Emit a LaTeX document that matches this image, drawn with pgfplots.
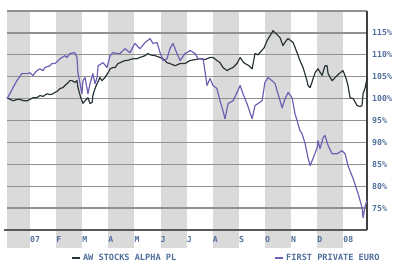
\documentclass[border=0pt]{standalone}
\usepackage{fontspec}
\setmonofont{DejaVu Sans Mono}
\usepackage{pgfplots}
\pgfplotsset{compat=1.18}
\definecolor{stripe}{RGB}{218,218,218}
\definecolor{gridc}{RGB}{145,145,145}
\definecolor{awc}{RGB}{40,52,55}
\definecolor{fpc}{RGB}{110,96,180}
\definecolor{lab}{RGB}{80,110,155}
\begin{document}
\begin{tikzpicture}
\begin{axis}[
 at={(0pt,0pt)}, anchor=south west,
 scale only axis, width=360pt, height=219pt,
 xmin=-0.88, xmax=12.91, ymin=70, ymax=120,
 set layers, clip=false,
 axis x line*=bottom, axis y line*=right,
 x axis line style={color=black!65, line width=1.6pt, shorten <=-3pt},
 y axis line style={color=black!75, line width=1.2pt},
 xtick={0,...,12}, xticklabels={07,F,M,A,M,J,J,A,S,O,N,D,08},
 ytick={75,80,...,120},
 yticklabels={75\%,80\%,85\%,90\%,95\%,100\%,105\%,110\%,115\%,{}},
 major tick length=0pt,
 ymajorgrids, grid style={gridc, line width=1.3pt},
 tick label style={font=\ttfamily\bfseries\fontsize{8.2}{9}\selectfont, text=lab},
 xticklabel style={anchor=north west, inner sep=0pt, yshift=-6pt},
 yticklabel style={anchor=west, inner sep=0pt, xshift=5pt},
 legend columns=2,
 legend style={at={(axis description cs:0.169,-0.128)}, anchor=west, draw=none, fill=none,
   font=\ttfamily\bfseries\fontsize{8.6}{9}\selectfont, text=lab,
   /tikz/every even column/.append style={column sep=96pt}},
 legend image code/.code={\draw[#1, line width=2pt] (0pt,0pt) -- (8pt,0pt);},
]
\begin{pgfonlayer}{axis background}
\fill[stripe] (axis cs:-0.88,65.9) rectangle (axis cs:0,120);
\fill[stripe] (axis cs:1,65.9) rectangle (axis cs:2,120);
\fill[stripe] (axis cs:3,65.9) rectangle (axis cs:4,120);
\fill[stripe] (axis cs:5,65.9) rectangle (axis cs:6,120);
\fill[stripe] (axis cs:7,65.9) rectangle (axis cs:8,120);
\fill[stripe] (axis cs:9,65.9) rectangle (axis cs:10,120);
\fill[stripe] (axis cs:11,65.9) rectangle (axis cs:12,120);
\end{pgfonlayer}
\addplot[awc, line width=1.2pt, line join=round] coordinates {
(-0.88,100.2) (-0.65,99.5) (-0.50,99.8) (-0.38,99.8) (-0.23,99.5) (-0.11,99.5) (0,99.8)
(0.11,100.2) (0.27,100.2) (0.38,100.7) (0.50,100.5) (0.65,101.1) (0.77,100.9) (0.88,101.1)
(0.96,101.4) (1.07,101.8) (1.15,102.3) (1.26,102.5) (1.34,103.0) (1.42,103.4) (1.53,104.1)
(1.61,104.1) (1.72,103.7) (1.80,104.1) (1.84,102.5) (1.92,100.7) (1.99,99.5) (2.03,98.9)
(2.11,99.5) (2.22,100.2) (2.30,98.9) (2.38,99.1) (2.41,100.7) (2.49,102.3) (2.57,103.4)
(2.68,104.8) (2.76,104.1) (2.87,104.8) (2.99,105.9) (3.07,106.8) (3.18,107.1) (3.26,107.1)
(3.37,108.0) (3.45,108.2) (3.64,108.7) (3.72,108.7) (3.83,108.9) (3.95,109.1) (4.10,109.1)
(4.21,109.4) (4.41,109.8) (4.52,110.3) (4.60,110.0) (4.79,109.8) (4.98,109.4) (5.10,109.1)
(5.25,108.2) (5.36,108.0) (5.56,107.5) (5.75,108.0) (5.94,108.0) (6.13,108.7) (6.32,108.9)
(6.51,109.1) (6.70,108.9) (6.90,109.4) (7.01,109.4) (7.16,108.7) (7.28,108.2) (7.39,107.1)
(7.55,106.4) (7.66,106.8) (7.78,107.1) (7.93,108.0) (8.05,109.4) (8.16,108.4) (8.24,108.0)
(8.39,107.5) (8.51,106.8) (8.62,110.3) (8.74,110.0) (8.81,110.5) (8.97,111.6) (9.08,113.2)
(9.20,114.4) (9.31,115.5) (9.43,114.8) (9.58,113.9) (9.69,112.1) (9.81,113.2) (9.89,113.7)
(10.08,112.8) (10.23,110.5) (10.34,108.7) (10.46,107.1) (10.61,104.1) (10.65,103.0)
(10.73,102.5) (10.80,103.7) (10.92,105.9) (11.03,106.8) (11.19,105.3) (11.30,107.5)
(11.38,107.5) (11.42,105.7) (11.57,104.1) (11.72,105.0) (11.88,105.9) (11.99,106.4)
(12.11,104.6) (12.18,103.0) (12.26,100.2) (12.38,100.0) (12.53,98.4) (12.64,98.2)
(12.72,98.4) (12.76,101.1) (12.84,102.5) (12.91,104.6)
};
\addlegendentry{AW STOCKS ALPHA PL}
\addplot[fpc, line width=1.2pt, line join=round] coordinates {
(-0.88,100.0) (-0.77,101.1) (-0.65,102.5) (-0.50,104.1) (-0.31,105.7) (-0.11,105.7)
(0,105.9) (0.11,105.3) (0.27,106.4) (0.38,106.8) (0.50,106.4) (0.57,107.1) (0.77,107.5)
(0.84,108.0) (0.96,108.0) (1.15,109.1) (1.34,109.8) (1.42,109.4) (1.53,110.3) (1.72,110.5)
(1.80,109.4) (1.84,105.7) (1.92,103.4) (1.99,101.1) (2.03,104.1) (2.11,104.8) (2.18,102.5)
(2.22,101.1) (2.30,103.4) (2.41,105.7) (2.49,103.4) (2.57,104.8) (2.61,107.5) (2.80,108.2)
(2.95,107.1) (3.07,109.8) (3.18,110.5) (3.33,110.3) (3.45,110.3) (3.64,111.4) (3.83,110.5)
(4.02,112.6) (4.21,111.4) (4.41,112.8) (4.60,113.7) (4.71,112.6) (4.87,112.8) (4.98,110.5)
(5.10,108.7) (5.25,109.1) (5.36,111.4) (5.48,112.6) (5.63,110.3) (5.75,108.7) (5.94,110.3)
(6.02,110.5) (6.13,111.0) (6.32,110.3) (6.44,109.1) (6.63,109.1) (6.70,106.4) (6.78,103.0)
(6.90,104.6) (7.01,103.0) (7.16,102.3) (7.28,99.5) (7.39,97.3) (7.47,95.4) (7.59,98.9)
(7.78,99.5) (7.93,101.4) (8.05,103.0) (8.16,101.1) (8.31,98.9) (8.43,96.8) (8.51,95.4)
(8.62,98.4) (8.74,98.9) (8.89,99.5) (9.00,103.7) (9.12,104.8) (9.27,104.1) (9.39,103.4)
(9.50,101.1) (9.66,97.9) (9.77,100.0) (9.89,101.4) (10.04,100.2) (10.15,96.6) (10.23,95.0)
(10.34,92.7) (10.42,92.0) (10.54,89.7) (10.65,86.5) (10.73,84.7) (10.84,86.3) (11.00,88.8)
(11.03,90.4) (11.11,88.6) (11.23,91.1) (11.30,91.6) (11.42,89.3) (11.57,87.4) (11.76,87.4)
(11.95,88.1) (12.07,87.4) (12.18,84.7) (12.38,81.7) (12.57,78.3) (12.72,75.1) (12.76,72.8)
(12.84,75.5) (12.91,76.7)
};
\addlegendentry{FIRST PRIVATE EURO}
\end{axis}
\pgfresetboundingbox
\path[use as bounding box] (-7pt,-50pt) rectangle (388pt,230pt);
\end{tikzpicture}
\end{document}
